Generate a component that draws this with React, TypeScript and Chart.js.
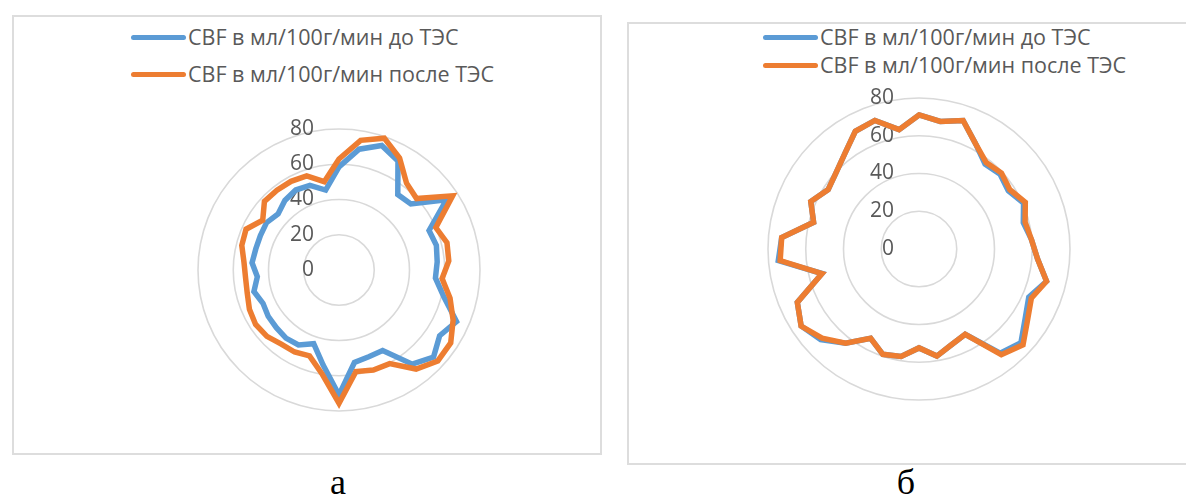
import React, { useEffect, useRef } from "react";
import { Chart, registerables } from "chart.js";

Chart.register(...registerables);

const categories = [
  "1", "2", "3", "4", "5", "6", "7", "8", "9", "10",
  "11", "12", "13", "14", "15", "16", "17", "18", "19", "20",
  "21", "22", "23", "24", "25", "26", "27", "28", "29", "30",
  "31", "32", "33", "34", "35", "36", "37", "38",
];

const seriesNames = ["CBF в мл/100г/мин до ТЭС", "CBF в мл/100г/мин после ТЭС"];

const tickValues = [0, 20, 40, 60, 80];

// Chart "а"
const leftBefore = [
  58.5, 69.5, 74.7, 70.3, 54.3, 55.4, 72.8, 55.8, 57, 55.9,
  54.9, 61.3, 72.8, 68.2, 72.9, 67.7, 52, 52, 53.2, 70.9,
  54.7, 44.2, 48.3, 49, 48.3, 48, 47.1, 49.8, 46.5, 49.5,
  48.7, 48.7, 49.1, 47, 50, 51.6, 50.8, 46,
];
const leftAfter = [
  63, 74.6, 79.1, 72.2, 62.4, 59.8, 77, 60, 63.2, 62.5,
  58.7, 65, 70.7, 75.7, 76.2, 71.2, 60.4, 60, 58.4, 75.6,
  59.5, 51.5, 52.9, 53.3, 55.6, 56.5, 55.5, 53.7, 53.2, 54.1,
  56.9, 57.6, 51.7, 57.5, 57.3, 57.2, 56.5, 50.8,
];

// Chart "б"
const rightBefore = [
  71, 68.5, 72, 63.2, 57, 58.4, 56.5, 60.5, 57, 59.8,
  63, 69.7, 63.5, 67.2, 73.4, 70, 51.4, 53.5, 57.5, 52.4,
  57.7, 59, 53.8, 63.3, 70.8, 74.6, 70.4, 53, 74.8, 73,
  57.6, 62.6, 57.5, 59.7, 64, 70.9, 72, 64.1,
];
const rightAfter = [
  71, 68.5, 72, 63.2, 58, 59.4, 57.5, 61.5, 58, 59.8,
  63, 69.7, 65, 68.7, 74.9, 71, 51.4, 53.5, 57.5, 52.4,
  57.7, 59, 53.8, 63.3, 69.8, 74.6, 70.4, 53, 73.8, 73,
  57.6, 62.6, 57.5, 59.7, 64, 70.9, 72, 64.1,
];

const BLUE = "#5B9BD5";
const ORANGE = "#ED7D31";
const GRID = "#D9D9D9";
const TEXT = "#595959";
const FONT = '"Open Sans", "Noto Sans", sans-serif';

const tickLabelPlugin = {
  id: "tickLabels",
  beforeDatasetsDraw(chart: any) {
    const s = chart.scales.r;
    const ctx = chart.ctx;
    ctx.save();
    ctx.font = `21px ${FONT}`;
    ctx.fillStyle = TEXT;
    ctx.textAlign = "right";
    ctx.textBaseline = "middle";
    for (const v of tickValues) {
      const d = s.getDistanceFromCenterForValue(v);
      ctx.fillText(String(v), s.xCenter - 25, s.yCenter - d);
    }
    ctx.restore();
  },
};

function Radar(props: { before: number[]; after: number[]; left: number; top: number; size: number; pad: number }) {
  const ref = useRef<HTMLCanvasElement | null>(null);
  useEffect(() => {
    if (!ref.current) return;
    const chart = new Chart(ref.current, {
      type: "radar",
      data: {
        labels: categories,
        datasets: [
          {
            label: seriesNames[0],
            data: props.before,
            borderColor: BLUE,
            backgroundColor: BLUE,
            borderWidth: 5.5,
            pointRadius: 0,
            fill: false,
            clip: false as any,
            order: 2,
          },
          {
            label: seriesNames[1],
            data: props.after,
            borderColor: ORANGE,
            backgroundColor: ORANGE,
            borderWidth: 5.5,
            pointRadius: 0,
            fill: false,
            clip: false as any,
            order: 1,
          },
        ],
      },
      options: {
        animation: false,
        responsive: false,
        devicePixelRatio: 1,
        layout: { padding: props.pad },
        plugins: { legend: { display: false }, tooltip: { enabled: false } },
        scales: {
          r: {
            min: 0,
            max: 80,
            ticks: { display: false, stepSize: 20 },
            grid: { circular: true, color: GRID, lineWidth: 1.6 },
            angleLines: { display: false },
            pointLabels: { display: false },
          },
        },
      },
      plugins: [tickLabelPlugin],
    });
    return () => chart.destroy();
  }, []);
  return (
    <canvas
      ref={ref}
      width={props.size}
      height={props.size}
      style={{ position: "absolute", left: props.left, top: props.top, width: props.size, height: props.size }}
    />
  );
}

function LegendRow(props: { color: string; text: string; x1: number; x2: number; tx: number; y: number }) {
  return (
    <>
      <div
        style={{
          position: "absolute",
          left: props.x1,
          top: props.y - 2.5,
          width: props.x2 - props.x1,
          height: 5,
          borderRadius: 2.5,
          background: props.color,
        }}
      />
      <div
        style={{
          position: "absolute",
          left: props.tx,
          top: props.y - 15,
          height: 30,
          lineHeight: "30px",
          fontFamily: FONT,
          fontSize: 21.5,
          color: TEXT,
          whiteSpace: "nowrap",
        }}
      >
        {props.text}
      </div>
    </>
  );
}

export default function App() {
  return (
    <div style={{ position: "fixed", left: 0, top: 0, width: 1186, height: 502, background: "#fff", overflow: "hidden" }}>
      <div
        style={{
          position: "absolute",
          left: 12,
          top: 15,
          width: 590,
          height: 440,
          border: "2px solid #DDDDDD",
          boxSizing: "border-box",
        }}
      />
      <div
        style={{
          position: "absolute",
          left: 627,
          top: 22,
          width: 570,
          height: 443,
          border: "2px solid #DDDDDD",
          boxSizing: "border-box",
        }}
      />
      <LegendRow color={BLUE} text={seriesNames[0]} x1={131} x2={186} tx={188} y={37} />
      <LegendRow color={ORANGE} text={seriesNames[1]} x1={131} x2={186} tx={188} y={74} />
      <LegendRow color={BLUE} text={seriesNames[0]} x1={763} x2={818} tx={820} y={37} />
      <LegendRow color={ORANGE} text={seriesNames[1]} x1={763} x2={818} tx={820} y={65} />
      <Radar before={leftBefore} after={leftAfter} left={179} top={110} size={320} pad={19} />
      <Radar before={rightBefore} after={rightAfter} left={749} top={79} size={340} pad={19} />
      <div
        style={{
          position: "absolute",
          left: 308,
          top: 462,
          width: 60,
          textAlign: "center",
          fontFamily: '"Liberation Serif", "DejaVu Serif", serif',
          fontSize: 36,
          lineHeight: "40px",
          color: "#000",
        }}
      >
        а
      </div>
      <div
        style={{
          position: "absolute",
          left: 876,
          top: 462,
          width: 60,
          textAlign: "center",
          fontFamily: '"Liberation Serif", "DejaVu Serif", serif',
          fontSize: 36,
          lineHeight: "40px",
          color: "#000",
        }}
      >
        б
      </div>
    </div>
  );
}
